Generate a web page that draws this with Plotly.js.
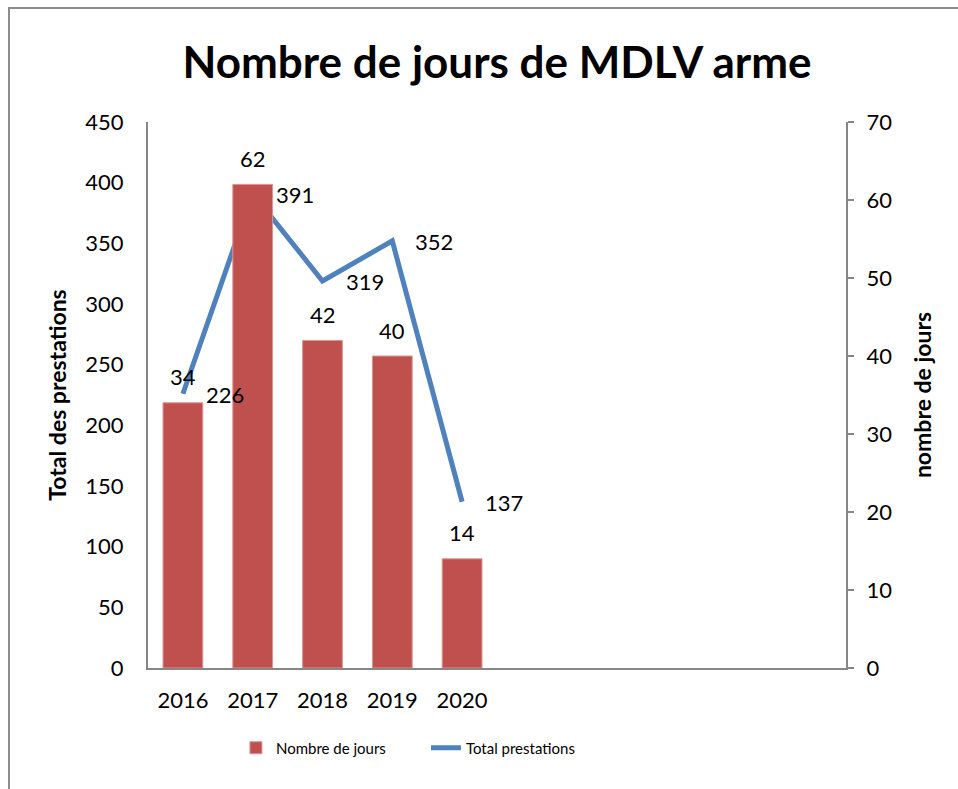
<!DOCTYPE html>
<html>
<head>
<meta charset="utf-8">
<script src="https://cdn.plot.ly/plotly-3.0.1.min.js"></script>
<style>
html,body{margin:0;padding:0;background:#fff;}
#chart{width:958px;height:789px;}
</style>
</head>
<body>
<div id="chart"></div>
<script>
// Data
const years = ['2016', '2017', '2018', '2019', '2020'];
const allCategories = ['2016', '2017', '2018', '2019', '2020', ' ', '  ', '   ', '    ', '     '];
const nombreJours = [34, 62, 42, 40, 14];
const totalPrestations = [226, 391, 319, 352, 137];

const FONT = 'Lato, "Open Sans", "Liberation Sans", sans-serif';
const AXIS_GRAY = '#868686';

const barTrace = {
  type: 'bar',
  name: 'Nombre de jours',
  x: years,
  y: nombreJours,
  yaxis: 'y2',
  marker: { color: '#C0504D', line: { color: '#D99694', width: 1 } }
};

const lineTrace = {
  type: 'scatter',
  mode: 'lines',
  name: 'Total prestations',
  x: years,
  y: totalPrestations,
  yaxis: 'y',
  line: { color: '#4F81BD', width: 5 }
};

// category serial number of each year on the x axis
const catIndex = years.map(yr => allCategories.indexOf(yr));

const barLabels = years.map((yr, i) => ({
  x: catIndex[i], y: nombreJours[i], xref: 'x', yref: 'y2',
  text: String(nombreJours[i]), showarrow: false,
  xanchor: 'center', yanchor: 'middle', yshift: 26,
  font: { family: FONT, size: 22, color: '#000' }
}));

const lineLabels = years.map((yr, i) => ({
  x: catIndex[i], y: totalPrestations[i], xref: 'x', yref: 'y',
  text: String(totalPrestations[i]), showarrow: false,
  xanchor: 'left', yanchor: 'middle', xshift: 21, yshift: -1,
  font: { family: FONT, size: 22, color: '#000' }
}));

const layout = {
  width: 958,
  height: 789,
  paper_bgcolor: '#fff',
  plot_bgcolor: '#fff',
  font: { family: FONT, size: 20, color: '#000' },
  margin: { l: 148, r: 112, t: 122, b: 121, autoexpand: false },
  title: {
    text: '<b>Nombre de jours de MDLV arme</b>',
    font: { family: FONT, size: 44, color: '#000' },
    x: 0.5, xanchor: 'center', xref: 'paper',
    y: 0.921, yanchor: 'middle'
  },
  bargap: 0.43,
  showlegend: true,
  legend: {
    orientation: 'h',
    x: 0.126, xanchor: 'left',
    y: -0.1465, yanchor: 'middle',
    font: { family: FONT, size: 15, color: '#000' },
    entrywidth: 145,
    traceorder: 'normal'
  },
  xaxis: {
    type: 'category',
    categoryorder: 'array',
    categoryarray: allCategories,
    range: [-0.5, 9.5],
    showline: true,
    linecolor: AXIS_GRAY,
    linewidth: 2,
    ticks: '',
    showgrid: false,
    zeroline: false,
    tickfont: { family: FONT, size: 22, color: '#000' },
    ticklabelstandoff: 12
  },
  yaxis: {
    range: [0, 450],
    dtick: 50,
    showline: true,
    linecolor: AXIS_GRAY,
    linewidth: 2,
    ticks: '',
    showgrid: false,
    zeroline: false,
    tickfont: { family: FONT, size: 22, color: '#000' },
    ticklabelstandoff: 18,
    title: {
      text: '<b>Total des prestations</b>',
      font: { family: FONT, size: 23, color: '#000' },
      standoff: 12
    }
  },
  yaxis2: {
    overlaying: 'y',
    side: 'right',
    range: [0, 70],
    dtick: 10,
    showline: true,
    linecolor: AXIS_GRAY,
    linewidth: 2,
    ticks: 'outside',
    ticklen: 6,
    tickwidth: 2,
    tickcolor: AXIS_GRAY,
    showgrid: false,
    zeroline: false,
    tickfont: { family: FONT, size: 22, color: '#000' },
    ticklabelstandoff: 8,
    title: {
      text: '<b>nombre de jours</b>',
      font: { family: FONT, size: 23, color: '#000' },
      standoff: 24
    }
  },
  annotations: barLabels.concat(lineLabels),
  shapes: [{
    type: 'rect',
    xref: 'paper', yref: 'paper',
    x0: -139 / 698, x1: 830 / 698,
    y0: -300 / 546, y1: 660 / 546,
    line: { color: '#8C8C8C', width: 2 },
    fillcolor: 'rgba(0,0,0,0)',
    layer: 'below'
  }]
};

Plotly.newPlot('chart', [barTrace, lineTrace], layout, { displayModeBar: false, staticPlot: true });
</script>
</body>
</html>
